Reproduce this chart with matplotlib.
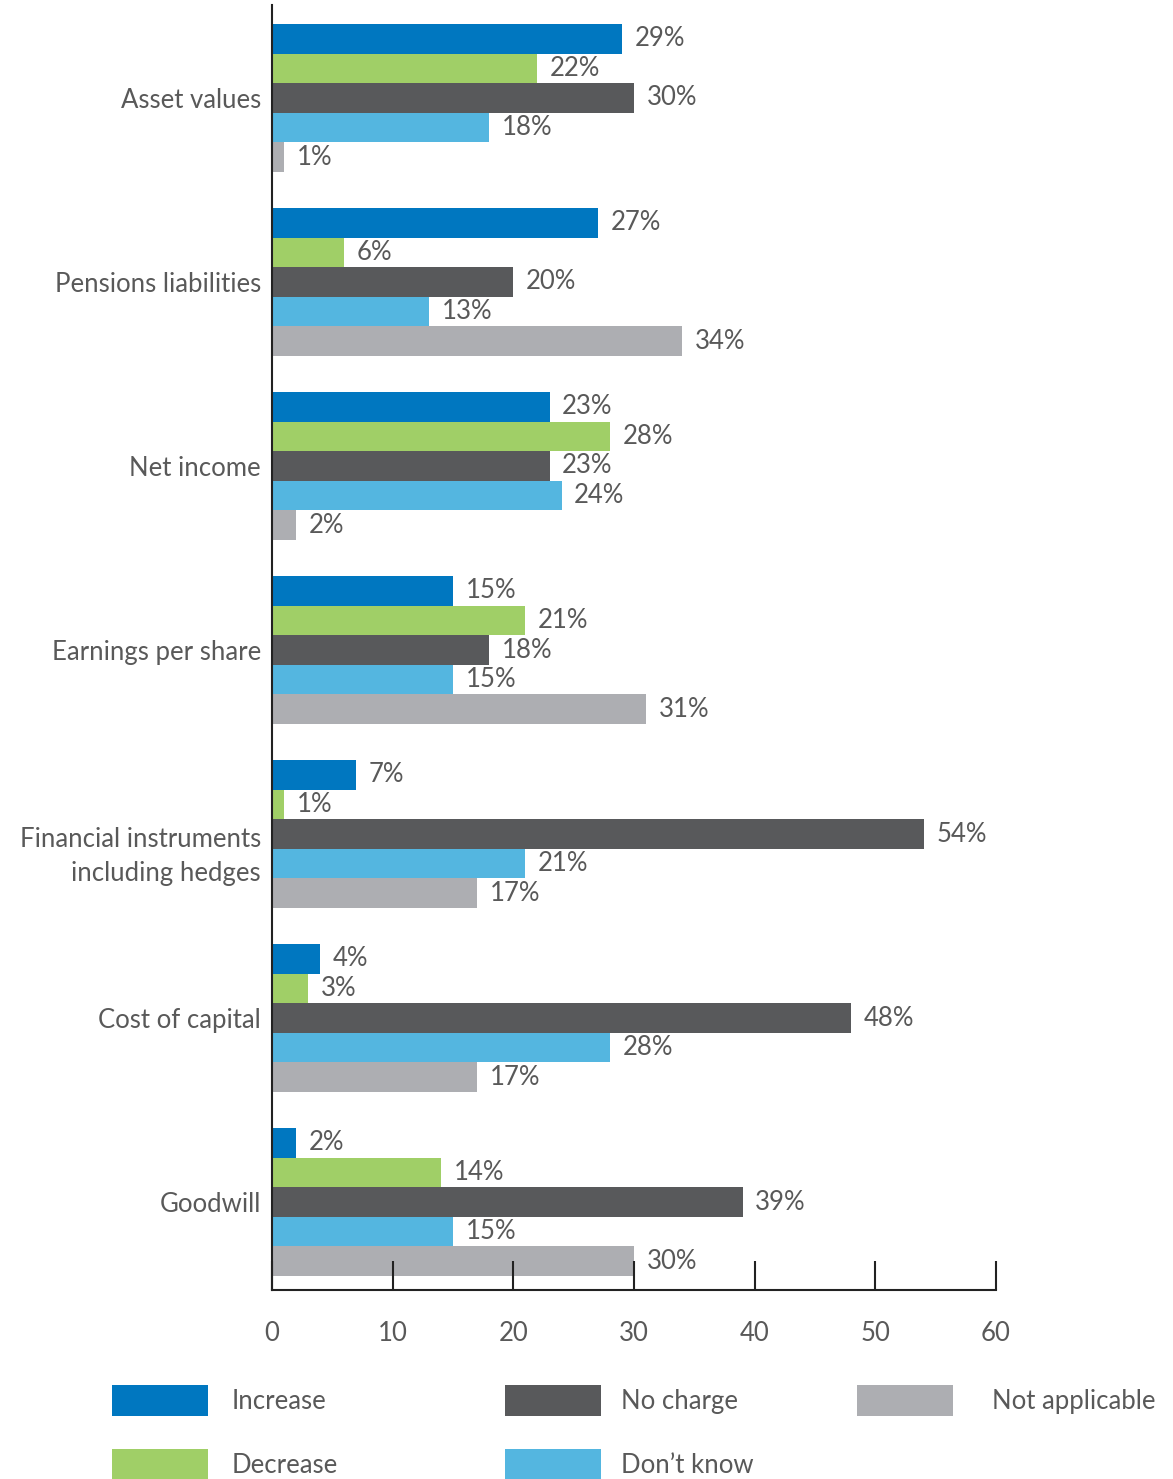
import matplotlib
matplotlib.use("Agg")
import matplotlib.pyplot as plt
import matplotlib.patches as mpatches
import matplotlib.transforms as mtransforms
import numpy as np

plt.rcParams["font.family"] = ["Lato", "DejaVu Sans"]

categories = [
    "Asset values",
    "Pensions liabilities",
    "Net income",
    "Earnings per share",
    "Financial instruments\nincluding hedges",
    "Cost of capital",
    "Goodwill",
]
series_names = ["Increase", "Decrease", "No charge", "Don\u2019t know", "Not applicable"]
increase = [29, 27, 23, 15, 7, 4, 2]
decrease = [22, 6, 28, 21, 1, 3, 14]
no_charge = [30, 20, 23, 18, 54, 48, 39]
dont_know = [18, 13, 24, 15, 21, 28, 15]
not_applicable = [1, 34, 2, 31, 17, 17, 30]
x_ticks = [0, 10, 20, 30, 40, 50, 60]

colors = ["#0077c0", "#a0cf67", "#58595b", "#54b6e0", "#adaeb2"]
text_color = "#595959"
FS = 18.5

fig = plt.figure(figsize=(11.73, 14.79), dpi=100)
ax = fig.add_axes([272 / 1173, 1 - 1290 / 1479, 724 / 1173, 1285 / 1479])

pitch = 6.216  # group spacing in bar heights
group_top = np.arange(len(categories)) * pitch
all_series = [increase, decrease, no_charge, dont_know, not_applicable]

for j, (vals, col, name) in enumerate(zip(all_series, colors, series_names)):
    ys = group_top + j + 0.5
    ax.barh(ys, vals, height=1.0, color=col, label=name, linewidth=0)
    for y, v in zip(ys, vals):
        ax.annotate(f"{v}%", (v, y), xytext=(9, 0), textcoords="offset points",
                    va="center", ha="left", fontsize=FS, color=text_color)

ax.set_xlim(0, 60)
ax.set_ylim(group_top[-1] + 5 + 0.47, -0.64)
ax.set_xticks(x_ticks)
ax.set_yticks(group_top + 2.5)
ax.set_yticklabels(categories, fontsize=FS, color=text_color,
                   multialignment="right", linespacing=1.45)
ax.tick_params(axis="y", length=0, pad=8)
ax.tick_params(axis="x", direction="in", length=21, width=1.5, color="#222222",
               pad=22, labelsize=FS, labelcolor=text_color)

# the two-line label sits a little lower than its group centre
for lab in ax.get_yticklabels():
    if "\n" in lab.get_text():
        lab.set_transform(lab.get_transform() +
                          mtransforms.ScaledTranslation(0, -15 / 100, fig.dpi_scale_trans))

for s in ["top", "right"]:
    ax.spines[s].set_visible(False)
for s in ["left", "bottom"]:
    ax.spines[s].set_linewidth(1.5)
    ax.spines[s].set_color("#222222")

# legend laid out as three columns
handles = [mpatches.Patch(color=c, label=n, linewidth=0) for c, n in zip(colors, series_names)]
cols = [(handles[0:2], 112, 0.93), (handles[2:4], 505, 0.78), (handles[4:5], 857, 1.5)]
for hs, xpix, tpad in cols:
    fig.legend(handles=hs, loc="upper left", bbox_to_anchor=(xpix / 1173, 1 - 1385 / 1479),
               frameon=False, fontsize=FS, labelcolor=text_color, handlelength=3.74,
               handleheight=1.45, handletextpad=tpad, labelspacing=1.3,
               borderaxespad=0, borderpad=0)

fig.savefig("out.png", dpi=100)
